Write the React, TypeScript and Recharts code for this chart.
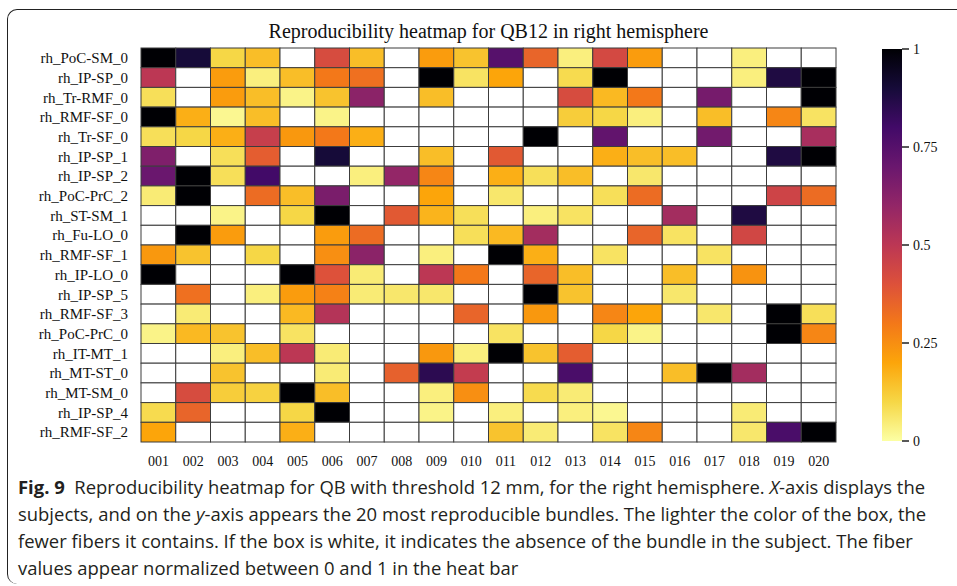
import React from 'react';
import { ScatterChart, Scatter, XAxis, YAxis, BarChart, Bar } from 'recharts';

const subjects = ['001', '002', '003', '004', '005', '006', '007', '008', '009', '010', '011', '012', '013', '014', '015', '016', '017', '018', '019', '020'];

const bundles = [
  'rh_PoC-SM_0', 'rh_IP-SP_0', 'rh_Tr-RMF_0', 'rh_RMF-SF_0', 'rh_Tr-SF_0',
  'rh_IP-SP_1', 'rh_IP-SP_2', 'rh_PoC-PrC_2', 'rh_ST-SM_1', 'rh_Fu-LO_0',
  'rh_RMF-SF_1', 'rh_IP-LO_0', 'rh_IP-SP_5', 'rh_RMF-SF_3', 'rh_PoC-PrC_0',
  'rh_IT-MT_1', 'rh_MT-ST_0', 'rh_MT-SM_0', 'rh_IP-SP_4', 'rh_RMF-SF_2',
];

// normalized fiber values, one row per bundle; null = bundle absent (white box)
const _ = null;
const fiberValues: (number | null)[][] = [
  [1, 0.9, 0.1, 0.15, _, 0.42, 0.15, _, 0.22, 0.14, 0.75, 0.35, 0.04, 0.43, 0.22, _, _, 0.04, _, _],
  [0.5, _, 0.22, 0.04, 0.15, 0.3, 0.32, _, 1, 0.07, 0.2, _, 0.09, 1, _, _, _, 0.04, 0.88, 1],
  [0.08, _, 0.22, 0.15, 0.03, 0.14, 0.62, _, 0.15, _, _, _, 0.42, 0.16, 0.3, _, 0.67, _, _, 1],
  [1, 0.18, 0.02, 0.15, _, 0.03, _, _, _, _, _, _, 0.12, 0.1, 0.04, _, 0.15, _, 0.27, 0.07],
  [0.08, 0.1, 0.18, 0.47, 0.23, 0.3, 0.18, _, _, _, _, 1, _, 0.72, _, _, 0.68, _, _, 0.55],
  [0.65, _, 0.08, 0.37, _, 0.9, _, _, 0.15, _, 0.38, _, _, 0.18, 0.15, 0.15, _, _, 0.88, 1],
  [0.7, 1, 0.08, 0.8, _, _, 0.04, 0.6, 0.27, _, 0.18, 0.08, 0.15, _, 0.06, _, _, _, _, _],
  [0.05, 1, _, 0.33, 0.15, 0.66, _, _, 0.2, _, 0.06, _, _, 0.08, 0.33, _, _, _, 0.45, 0.33],
  [_, _, 0.03, _, 0.1, 1, _, 0.38, 0.17, 0.08, _, 0.04, 0.07, _, _, 0.56, _, 0.88, _, _],
  [_, 1, 0.22, _, _, 0.22, 0.33, _, _, 0.08, 0.16, 0.56, _, _, 0.35, 0.07, _, 0.44, _, _],
  [0.23, 0.14, _, 0.1, _, 0.25, 0.62, _, 0.04, _, 1, 0.18, _, 0.07, _, _, 0.07, _, _, _],
  [1, _, _, _, 1, 0.4, 0.05, _, 0.5, 0.3, _, 0.35, 0.15, _, _, 0.15, _, 0.24, _, _],
  [_, 0.32, _, 0.04, 0.22, 0.28, 0.05, 0.06, 0.06, _, _, 1, 0.14, _, _, 0.06, _, _, _, _],
  [_, 0.05, _, _, 0.16, 0.52, _, _, _, 0.35, _, 0.23, _, 0.27, 0.2, _, 0.06, _, 1, 0.08],
  [0.03, 0.16, 0.14, _, 0.07, _, _, _, _, _, 0.07, _, _, 0.1, 0.03, _, _, _, 1, 0.27],
  [_, _, 0.04, 0.15, 0.5, 0.05, _, _, 0.23, 0.04, 1, 0.14, 0.37, _, _, _, _, _, _, _],
  [_, _, 0.14, _, _, 0.05, _, 0.36, 0.85, 0.48, _, _, 0.78, _, _, 0.15, 1, 0.56, _, _],
  [_, 0.42, 0.12, 0.11, 1, 0.15, _, _, 0.04, 0.25, _, 0.09, 0.05, _, _, _, _, _, _, _],
  [0.09, 0.35, _, _, 0.1, 1, _, _, 0.03, _, 0.04, _, 0.04, 0.02, _, _, _, 0.05, _, _],
  [0.2, _, _, _, 0.18, _, _, _, _, _, 0.14, 0.05, _, 0.07, 0.27, _, _, 0.06, 0.78, 1],
];

const colorbarTicks = [0, 0.25, 0.5, 0.75, 1];

// inferno colormap samples at 0, 0.1, ... 1
const INFERNO = ['#000004', '#160b39', '#420a68', '#6a176e', '#932667', '#bc3754', '#dd513a', '#f37819', '#fca50a', '#f6d746', '#fcffa4'];

const hex = (c: string) => [1, 3, 5].map((i) => parseInt(c.slice(i, i + 2), 16));

// reversed inferno: 0 -> pale yellow, 1 -> black
function heatColor(v: number | null) {
  if (v == null) return '#ffffff';
  const t = (1 - v) * 10;
  const i = Math.min(9, Math.floor(t));
  const f = t - i;
  const a = hex(INFERNO[i]);
  const b = hex(INFERNO[i + 1]);
  const m = a.map((x, k) => Math.round(x + (b[k] - x) * f));
  return `rgb(${m[0]},${m[1]},${m[2]})`;
}

const cells = fiberValues.flatMap((row, r) => row.map((v, c) => ({ x: c + 0.5, y: r + 0.5, v })));
const centers = subjects.map((_s, i) => i + 0.5);

const PLOT_W = 695;
const PLOT_H = 394;
const CW = PLOT_W / subjects.length;
const CH = PLOT_H / bundles.length;

const HeatCell = (props: any) => {
  const { cx, cy, payload } = props;
  return (
    <rect x={cx - CW / 2} y={cy - CH / 2} width={CW} height={CH}
      fill={heatColor(payload.v)} stroke="#3c3c3c" strokeWidth={1} />
  );
};

const serif = '"Liberation Serif", "DejaVu Serif", serif';

const caption = [
  <><b>Fig. 9</b>&nbsp;&nbsp;Reproducibility heatmap for QB with threshold 12 mm, for the right hemisphere. <i>X</i>-axis displays the</>,
  <>subjects, and on the <i>y</i>-axis appears the 20 most reproducible bundles. The lighter the color of the box, the</>,
  <>fewer fibers it contains. If the box is white, it indicates the absence of the bundle in the subject. The fiber</>,
  <>values appear normalized between 0 and 1 in the heat bar</>,
];

export default function App() {
  return (
    <div style={{ position: 'absolute', left: 0, top: 0, width: 957, height: 586, background: '#fff', overflow: 'hidden', fontFamily: serif }}>
      <div style={{
        position: 'absolute', left: 7, top: 9, width: 960, height: 574,
        borderLeft: '1.5px solid #222', borderTop: '1.5px solid #222',
        borderTopLeftRadius: 10, borderBottomLeftRadius: 10,
      }} />
      <div style={{ position: 'absolute', left: 141, width: 695, top: 20, textAlign: 'center', fontFamily: serif, fontSize: 20, color: '#111' }}>
        Reproducibility heatmap for QB12 in right hemisphere
      </div>
      <div style={{ position: 'absolute', left: 0, top: 0 }}>
        <ScatterChart width={957} height={480} margin={{ top: 48, right: 121, bottom: 8, left: 0 }}>
          <XAxis type="number" dataKey="x" domain={[0, 20]} ticks={centers} interval={0}
            tickFormatter={(v: number) => subjects[Math.floor(v)]} axisLine={false} tickLine={false}
            tickSize={0} tickMargin={14} height={30}
            tick={{ fontFamily: serif, fontSize: 14, fill: '#111' }} />
          <YAxis type="number" dataKey="y" domain={[0, 20]} reversed ticks={centers} interval={0}
            tickFormatter={(v: number) => bundles[Math.floor(v)]} axisLine={false} tickLine={false}
            tickSize={0} tickMargin={13} width={141}
            tick={{ fontFamily: serif, fontSize: 15, fill: '#111' }} />
          <Scatter data={cells} shape={HeatCell} isAnimationActive={false} />
        </ScatterChart>
      </div>
      <div style={{ position: 'absolute', left: 882, top: 0, fontFamily: serif }}>
        <BarChart width={75} height={480} data={[{ name: 'bar', v: 1 }]} barCategoryGap={0}
          margin={{ top: 49, right: 0, bottom: 39, left: 0 }} style={{ fontFamily: serif }}>
          <defs>
            <linearGradient id="inferno" x1="0" y1="0" x2="0" y2="1">
              {INFERNO.map((c, i) => <stop key={i} offset={i / 10} stopColor={c} />)}
            </linearGradient>
          </defs>
          <XAxis dataKey="name" hide />
          <YAxis orientation="right" domain={[0, 1]} ticks={colorbarTicks} interval={0} axisLine={false}
            tickSize={7} tickMargin={4} width={55} tickLine={{ stroke: '#222', strokeWidth: 1.5 }}
            tickFormatter={(v: number) => String(v)}
            tick={{ fontFamily: serif, fontSize: 14, fill: '#111' }} />
          <Bar dataKey="v" fill="url(#inferno)" isAnimationActive={false} />
        </BarChart>
      </div>
      <div style={{ position: 'absolute', left: 18, top: 473, fontFamily: '"Open Sans", "Noto Sans", sans-serif', fontSize: 18.45, lineHeight: '27px', color: '#231f20', whiteSpace: 'nowrap' }}>
        {caption.map((line, i) => <div key={i}>{line}</div>)}
      </div>
    </div>
  );
}
